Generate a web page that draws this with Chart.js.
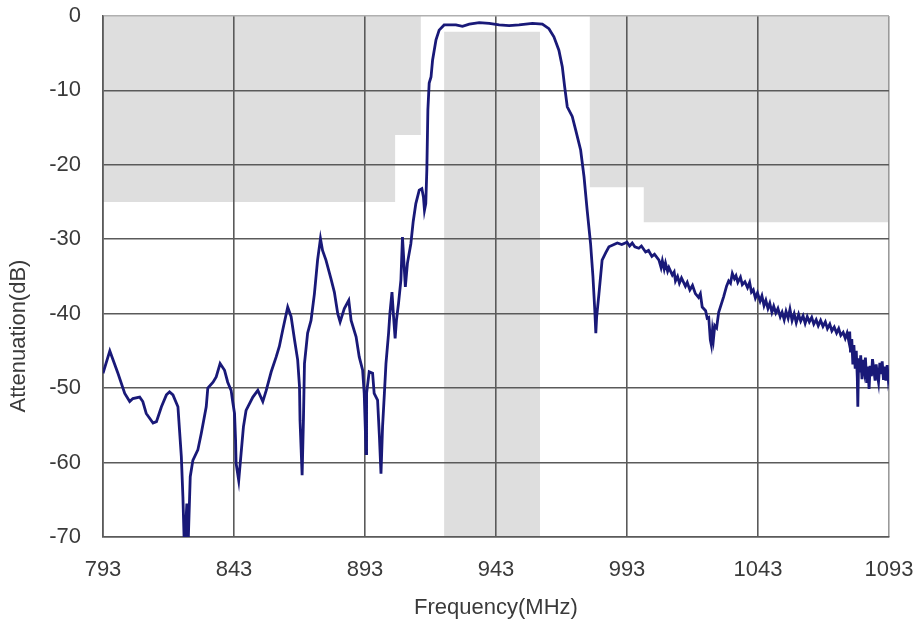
<!DOCTYPE html>
<html>
<head>
<meta charset="utf-8">
<script src="https://cdn.jsdelivr.net/npm/chart.js@4.4.1/dist/chart.umd.min.js"></script>
<style>
html,body{margin:0;padding:0;background:#fff;}
#wrap{width:916px;height:625px;}
</style>
</head>
<body>
<div id="wrap"><canvas id="c" width="916" height="625"></canvas></div>
<script>
// ---- data ----
const xTicks = [793, 843, 893, 943, 993, 1043, 1093];
const yTicks = [0, -10, -20, -30, -40, -50, -60, -70];

const freqMHz = [
793,795.6,798.7,801.3,803.2,804.4,807,808.2,809.5,812.1,813.4,815.3,817.2,818.4,819.7,821.6,822.2,822.9,823.5,824.1,825,825.4,826.3,827.3,829.2,830.5,832.4,833,835,836.2,837.7,839.4,840.6,841.9,842.5,843.2,843.6,843.8,844.8,845.7,846.6,847.6,850.2,852.1,854,855.3,857.2,859.1,860.3,861.6,863.5,864.8,866.1,867.3,868,868.2,869,869.5,869.9,871.1,872.4,873.7,874.9,876,876.8,878.1,880,881.3,882.6,883.5,885.1,886.8,887.7,889.6,890.8,892.1,892.7,893.1,893.4,893.6,894.6,895.9,896.5,897.8,898.5,899.1,899.7,900.4,901,902,902.5,903.3,903.9,904.5,905,905.8,906.7,907.3,908.4,909.2,910.5,911.4,912.4,913.7,914.7,915.3,915.7,916.2,916.6,917,917.5,918.2,918.8,920.1,921.3,923.2,927.7,930.2,932.8,936.6,940.4,944.2,948,951.8,956.9,960.7,963.2,965.1,967,968.3,969.2,970.2,972.1,973.4,975.3,976.6,977.8,979.1,980,980.7,981.1,981.4,982.3,983.5,984.9,986.1,987.4,989.3,991,
993,994,995,996,997.5,998.5,1000.1,1001.2,1002.5,1003.5,1005.2,1006,1006.5,1007.2,1007.7,1008.5,1009,1010.3,1011,1011.5,1012.3,1013,1013.8,1015.3,1016,1017,1018,1019.1,1020.3,1021,1021.7,1023,1023.6,1024.2,1024.8,1025.2,1025.6,1026,1026.5,1027.2,1028,1029.9,1031,1031.8,1032.5,1033.2,1034,1034.6,1035.3,1036.3,1037,1038,1039,1039.8,1040.5,1041.2,1042,1042.8,1043.8,1044.5,1045.3,1046,1046.8,1047.5,1048.3,1049,1049.8,1050.6,1051.5,1052.2,1053,1053.7,1054.5,1055.2,1056,1056.8,1057.6,1058.5,1059.3,1060.2,1061,1061.8,1062.6,1063.5,1064.3,1065.2,1066,1066.9,1067.8,1068.7,1069.5,1070.4,1071.2,1072.1,1073,1073.8,1074.6,1075.5,1076.3,1077,1077.6,1078,1078.3,1078.8,1079.2,1079.6,1080.1,1080.5,1080.9,1081.1,1081.4,1081.8,1082.2,1082.7,1083.1,1083.6,1084,1084.5,1084.9,1085.4,1085.8,1086.3,1086.7,1087.2,1087.7,1088.1,1088.6,1089,1089.5,1090,1090.4,1090.9,1091.3,1091.8,1092.3,1092.7,1093
];
const attenuationDb = [
-48,-45,-48,-50.7,-51.8,-51.4,-51.2,-51.8,-53.4,-54.7,-54.5,-52.5,-50.9,-50.5,-50.9,-52.5,-55.6,-59.2,-64.6,-72,-65.5,-72,-61.9,-59.7,-58.3,-56.1,-52.5,-50,-49.2,-48.5,-46.7,-47.6,-49.2,-50.3,-51.8,-53.4,-57,-60.1,-62.4,-58.8,-55.2,-53,-51.2,-50.3,-51.8,-50.3,-47.8,-45.8,-44.4,-42.2,-39.1,-40.4,-43.5,-46.2,-49.8,-54.3,-61.7,-54.3,-46.7,-42.6,-40.9,-37.3,-32.8,-29.9,-31.5,-32.8,-35.3,-37.1,-40,-41.1,-39.3,-38.2,-40.9,-43.1,-45.8,-47.6,-50.7,-55.2,-58.8,-50.7,-47.8,-48,-50.7,-51.6,-56.5,-61.5,-55.2,-50.7,-46.7,-42.6,-40,-37.1,-40.4,-43.3,-40.9,-38.6,-35.5,-29.7,-36.4,-33.2,-30.6,-27.6,-25.2,-23.4,-23.2,-24.3,-26.1,-25.2,-20.7,-12.6,-9,-8.2,-5.9,-3.2,-1.9,-1.2,-1.2,-1.4,-1.1,-0.9,-1.0,-1.2,-1.3,-1.2,-1.0,-1.1,-1.7,-2.8,-4.6,-6.8,-9.5,-12.2,-13.5,-15.3,-18,-21.6,-26.1,-30.6,-35,-39.5,-42.6,-40.5,-37.3,-32.8,-31.8,-31.0,-30.8,-30.5,-30.7,
-30.4,-30.9,-30.5,-31.0,-31.2,-30.9,-31.7,-31.5,-32.3,-32.0,-32.8,-33.8,-32.9,-34.0,-33.2,-34.3,-33.8,-34.8,-34.4,-35.6,-35.0,-35.9,-35.2,-36.3,-35.8,-36.8,-36.2,-37.3,-37.8,-37.3,-39.1,-39.6,-40.6,-40.5,-43.5,-44.2,-42.3,-43.4,-41.6,-41.9,-39.8,-37.7,-36.3,-35.6,-35.9,-34.6,-35.3,-34.9,-35.8,-35.1,-36.1,-35.7,-36.5,-35.8,-37.1,-36.8,-37.9,-37.2,-38.3,-37.6,-38.9,-38.2,-39.3,-38.6,-39.8,-39.0,-39.9,-39.3,-40.4,-39.8,-40.8,-39.7,-40.6,-39.4,-40.9,-40.0,-41.2,-40.1,-41.0,-40.3,-41.3,-40.4,-41.1,-40.5,-41.4,-40.8,-41.6,-40.9,-41.7,-41.1,-42.0,-41.4,-42.3,-41.8,-42.6,-42.0,-42.9,-42.5,-43.3,-42.6,-43.6,-42.4,-45.2,-43.4,-46.8,-44.2,-47.4,-45.0,-48.6,-52.5,-46.0,-47.9,-45.6,-48.8,-46.2,-47.6,-45.9,-49.3,-47.1,-50.1,-47.0,-48.4,-46.1,-47.5,-49.0,-46.8,-48.3,-49.2,-46.6,-48.1,-46.4,-48.9,-47.1,-49.0,-46.9,-48.7,-47.9
];

// stopband mask (grey, filled up to 0 dB)
const maskFreq = [793, 904.5, 904.5, 914.3, 914.3, 978.8, 978.8, 999.4, 999.4, 1093];
const maskDb   = [-25, -25, -16, -16, 0, 0, -23, -23, -27.7, -27.7];
// passband mask (grey, filled down to -70 dB)
const passFreq = [923.2, 959.8];
const passDb   = [-2.1, -2.1];

const FONT = {family: '"Liberation Sans", Arial, sans-serif', size: 22};
const TXT = '#3a3a3a';
const GREY = '#dedede';

const toXY = (xs, ys) => xs.map((x, i) => ({x: x, y: ys[i]}));

const yTitlePlugin = {
  id: 'yTitle',
  afterDraw(chart) {
    const ctx = chart.ctx;
    ctx.save();
    ctx.translate(19, 336);
    ctx.rotate(-Math.PI / 2);
    ctx.font = FONT.size + 'px ' + FONT.family;
    ctx.fillStyle = TXT;
    ctx.textAlign = 'center';
    ctx.textBaseline = 'middle';
    ctx.fillText('Attenuation(dB)', 0, 0);
    ctx.restore();
  }
};

new Chart(document.getElementById('c'), {
  type: 'line',
  data: {
    datasets: [
      {
        label: 'Response',
        data: toXY(freqMHz, attenuationDb),
        borderColor: '#191978',
        borderWidth: 2.8,
        pointRadius: 0,
        fill: false,
        tension: 0,
        order: 0
      },
      {
        label: 'Stopband mask',
        data: toXY(maskFreq, maskDb),
        borderWidth: 0,
        borderColor: 'rgba(0,0,0,0)',
        backgroundColor: GREY,
        pointRadius: 0,
        fill: 'end',
        order: 2
      },
      {
        label: 'Passband mask',
        data: toXY(passFreq, passDb),
        borderWidth: 0,
        borderColor: 'rgba(0,0,0,0)',
        backgroundColor: GREY,
        pointRadius: 0,
        fill: 'start',
        order: 1
      }
    ]
  },
  options: {
    responsive: false,
    devicePixelRatio: 1,
    animation: false,
    layout: {padding: {left: 0, right: 27, top: 16, bottom: 0}},
    plugins: {
      legend: {display: false},
      tooltip: {enabled: false},
      filler: {drawTime: 'beforeDraw'}
    },
    scales: {
      x: {
        type: 'linear',
        min: 793,
        max: 1093,
        afterBuildTicks: s => { s.ticks = xTicks.map(v => ({value: v})); },
        afterFit: s => { s.height = 88; s.paddingLeft = 0; s.paddingRight = 0; },
        ticks: {
          font: FONT, color: TXT, padding: 20,
          autoSkip: false, maxRotation: 0,
          callback: v => String(v)
        },
        grid: {
          drawTicks: false,
          lineWidth: 1.6,
          color: c => (c.tick && c.tick.value === 1093) ? '#9a9a9a' : '#5a5a5a'
        },
        border: {display: true, color: '#5a5a5a', width: 1.6},
        title: {
          display: true, text: 'Frequency(MHz)', font: FONT, color: TXT,
          padding: {top: 0, bottom: 4}
        }
      },
      y: {
        min: -70,
        max: 0,
        afterBuildTicks: s => { s.ticks = yTicks.map(v => ({value: v})); },
        afterFit: s => { s.width = 103; s.paddingTop = 0; s.paddingBottom = 0; },
        ticks: {
          font: FONT, color: TXT, padding: 22,
          callback: v => String(v)
        },
        grid: {
          drawTicks: false,
          lineWidth: 1.6,
          color: c => (c.tick && c.tick.value === 0) ? '#b0b0b0' : '#5a5a5a'
        },
        border: {display: true, color: '#5a5a5a', width: 1.6}
      }
    }
  },
  plugins: [yTitlePlugin]
});
</script>
</body>
</html>
